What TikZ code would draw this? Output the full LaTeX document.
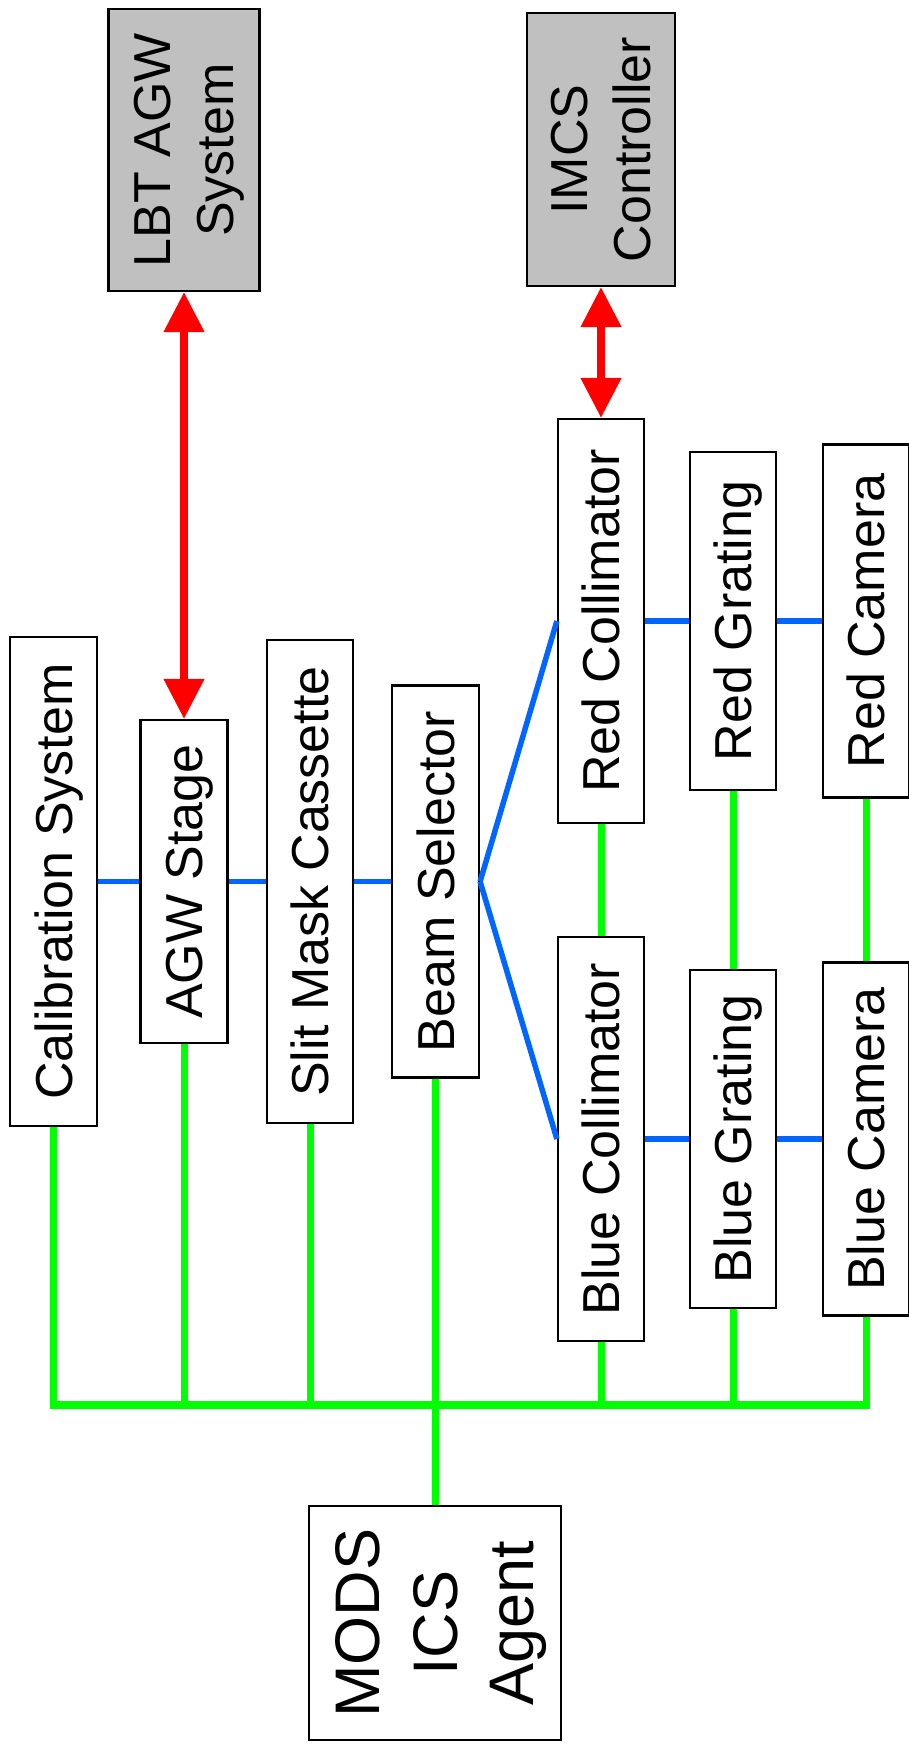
\documentclass[tikz,border=0pt]{standalone}
\usepackage{fontspec}
\setmainfont{Liberation Sans}
\usetikzlibrary{arrows.meta,calc}
\definecolor{lnblue}{RGB}{0,102,255}
\definecolor{lngreen}{RGB}{0,255,0}
\definecolor{boxgray}{RGB}{192,192,192}
\newcommand{\nodesc}[1]{\raisebox{0pt}[\height][0pt]{#1}}
\tikzset{
  vbox/.style={draw=black, line width=2.2pt, rotate=90, inner sep=0pt, align=center,
    text depth=0pt, font=\fontsize{52}{63}\selectfont},
  mbox/.style={draw=black, line width=2.2pt, rotate=90, inner sep=0pt, align=center,
    font=\fontsize{52}{63}\selectfont},
  extbox/.style={mbox, fill=boxgray},
  bluelink/.style={draw=lnblue, line width=5.5pt},
  greenlink/.style={draw=lngreen, line width=7pt},
  greenbus/.style={draw=lngreen, line width=8pt, line cap=rect},
  redlink/.style={draw=red, line width=7.5pt, {Triangle[length=40pt,width=39pt]}-{Triangle[length=40pt,width=39pt]}},
}
\begin{document}
\begin{tikzpicture}[x=1pt, y=-1pt]
\useasboundingbox (0,0) rectangle (908,1749);
% external systems
\node[extbox, minimum width=282pt, minimum height=151pt] (lbt) at (184,150) {LBT AGW\\\nodesc{System}};
\node[extbox, minimum width=273pt, minimum height=148pt] (imcs) at (601,149.5) {IMCS\\Controller};
% left column
\node[vbox, minimum width=489pt, minimum height=87pt] (calib) at (53.5,881.5) {Calibration System};
\node[vbox, minimum width=323pt, minimum height=87pt] (agw) at (184,881.5) {AGW Stage};
\node[vbox, minimum width=483pt, minimum height=86pt] (slit) at (310,881.5) {Slit Mask Cassette};
\node[vbox, minimum width=392pt, minimum height=87pt] (bsel) at (435.5,881.5) {Beam Selector};
% red channel
\node[vbox, minimum width=404pt, minimum height=86pt] (rcoll) at (601,621) {Red Collimator};
\node[vbox, minimum width=338pt, minimum height=86pt] (rgrat) at (733,621) {Red Grating};
\node[vbox, minimum width=353pt, minimum height=86pt] (rcam) at (866,621) {Red Camera};
% blue channel
\node[vbox, minimum width=404pt, minimum height=86pt] (bcoll) at (601,1139) {Blue Collimator};
\node[vbox, minimum width=338pt, minimum height=86pt] (bgrat) at (733,1139) {Blue Grating};
\node[vbox, minimum width=353pt, minimum height=86pt] (bcam) at (866,1139) {Blue Camera};
% agent
\node[mbox, minimum width=234pt, minimum height=252pt, font=\fontsize{63}{77}\selectfont] (mods) at (435,1623) {MODS\\ICS\\\nodesc{Agent}};
% bus coordinate
\coordinate (bus) at (435,1405);
% blue optical path
\draw[bluelink] (calib.south |- bsel.center) -- (agw.north |- bsel.center);
\draw[bluelink] (agw.south |- bsel.center) -- (slit.north |- bsel.center);
\draw[bluelink] (slit.south |- bsel.center) -- (bsel.north);
\draw[bluelink] (bsel.south) -- (rcoll.north);
\draw[bluelink] (bsel.south) -- (bcoll.north);
\draw[bluelink] (rcoll.south) -- (rgrat.north);
\draw[bluelink] (rgrat.south) -- (rcam.north);
\draw[bluelink] (bcoll.south) -- (bgrat.north);
\draw[bluelink] (bgrat.south) -- (bcam.north);
% green control
\foreach \n in {calib,agw,slit,bsel,bcoll,bgrat,bcam}
  \draw[greenlink] (\n.west) -- (\n.west |- bus);
\draw[greenlink] (rcoll.west) -- (bcoll.east);
\draw[greenlink] (rgrat.west) -- (bgrat.east);
\draw[greenlink] (rcam.west) -- (bcam.east);
\draw[greenbus] (calib.west |- bus) -- (bcam.west |- bus);
\draw[greenlink] (bus) -- (mods.east);
% red external links
\draw[redlink] (lbt.west) -- (agw.east);
\draw[redlink] (imcs.west) -- (rcoll.east);
\end{tikzpicture}
\end{document}
